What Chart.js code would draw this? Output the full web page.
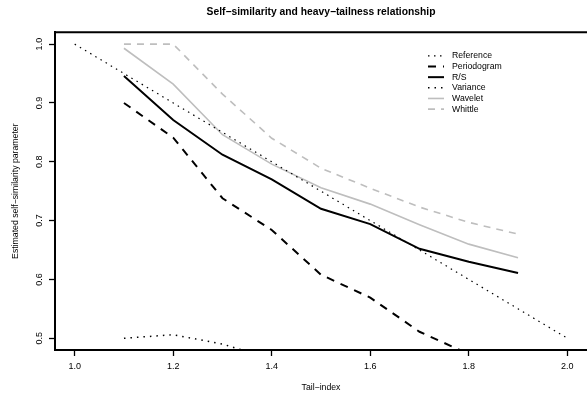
<!DOCTYPE html>
<html>
<head>
<meta charset="utf-8">
<script src="https://cdn.jsdelivr.net/npm/chart.js@4.4.1/dist/chart.umd.min.js"></script>
<style>
  html, body { margin: 0; padding: 0; background: #fff; overflow: hidden; }
</style>
</head>
<body>
<canvas id="chart" width="587" height="395"></canvas>
<script>
// tail index (alpha) where the estimators were evaluated
const tailIndex = [1.1, 1.2, 1.3, 1.4, 1.5, 1.6, 1.7, 1.8, 1.9];
const refIndex = [1.0, 1.1, 1.2, 1.3, 1.4, 1.5, 1.6, 1.7, 1.8, 1.9, 2.0];

const reference   = [1.0, 0.95, 0.9, 0.85, 0.8, 0.75, 0.7, 0.65, 0.6, 0.55, 0.5];
const periodogram = [0.900, 0.841, 0.738, 0.684, 0.608, 0.569, 0.511, 0.473, null];
const rs          = [0.946, 0.871, 0.812, 0.770, 0.720, 0.694, 0.652, 0.630, 0.611];
const variance    = [0.500, 0.506, 0.490, 0.465, null, null, null, null, null];
const wavelet     = [0.993, 0.932, 0.846, 0.796, 0.756, 0.728, 0.693, 0.660, 0.637];
const whittle     = [1.0, 1.0, 0.915, 0.840, 0.789, 0.755, 0.723, 0.697, 0.677];

const xTicks = [1.0, 1.2, 1.4, 1.6, 1.8, 2.0];
const yTicks = [0.5, 0.6, 0.7, 0.8, 0.9, 1.0];

const FONT = '"Liberation Sans", Arial, Helvetica, sans-serif';
const GREY = '#bebebe';

function pts(xs, ys) {
  return xs.map((x, i) => ({x: x, y: ys[i]}));
}

function line(label, xs, ys, color, width, dash) {
  return {
    label: label,
    data: pts(xs, ys),
    borderColor: color,
    borderWidth: width,
    borderDash: dash,
    pointRadius: 0,
    tension: 0,
    fill: false,
    clip: 0
  };
}

// R style box top, rotated y labels and legend inside the plot
const rStuff = {
  id: 'rStuff',
  afterDraw(chart) {
    const ctx = chart.ctx;
    const a = chart.chartArea;
    const y = chart.scales.y;
    ctx.save();
    ctx.strokeStyle = '#000';
    ctx.lineWidth = 2;
    ctx.setLineDash([]);
    ctx.beginPath();
    ctx.moveTo(a.left - 1, a.top);
    ctx.lineTo(a.right, a.top);
    ctx.stroke();

    ctx.fillStyle = '#000';
    ctx.font = '9px ' + FONT;
    ctx.textAlign = 'center';
    ctx.textBaseline = 'middle';
    y.ticks.forEach(t => {
      ctx.save();
      ctx.translate(40, y.getPixelForValue(t.value));
      ctx.rotate(-Math.PI / 2);
      ctx.fillText(t.value.toFixed(1), 0, 0);
      ctx.restore();
    });

    // legend
    ctx.font = '8.7px ' + FONT;
    ctx.textAlign = 'left';
    chart.data.datasets.forEach((ds, i) => {
      const yy = a.top + 23.5 + i * 10.65;
      ctx.strokeStyle = ds.borderColor;
      ctx.lineWidth = ds.borderWidth;
      ctx.setLineDash(ds.borderDash || []);
      ctx.beginPath();
      ctx.moveTo(428, yy);
      ctx.lineTo(444, yy);
      ctx.stroke();
      ctx.fillText(ds.label, 452, yy);
    });
    ctx.restore();
  }
};

new Chart(document.getElementById('chart'), {
  type: 'line',
  data: {
    datasets: [
      line('Reference', refIndex, reference, '#000', 1.2, [1.5, 4.5]),
      line('Periodogram', tailIndex, periodogram, '#000', 2, [8, 7]),
      line('R/S', tailIndex, rs, '#000', 2, []),
      line('Variance', tailIndex, variance, '#000', 1.5, [1.5, 5]),
      line('Wavelet', tailIndex, wavelet, GREY, 1.6, []),
      line('Whittle', tailIndex, whittle, GREY, 1.6, [7, 6])
    ]
  },
  options: {
    responsive: false,
    animation: false,
    devicePixelRatio: 1,
    layout: {padding: 0},
    plugins: {
      legend: {display: false},
      tooltip: {enabled: false},
      title: {
        display: true,
        text: 'Self\u2212similarity and heavy\u2212tailness relationship',
        color: '#000',
        font: {family: FONT, size: 10.3, weight: 'bold'},
        padding: {top: 6, bottom: 14},
        fullSize: false
      }
    },
    scales: {
      x: {
        type: 'linear',
        min: 0.96,
        max: 2.04,
        afterBuildTicks: s => { s.ticks = xTicks.map(v => ({value: v})); },
        afterFit: s => { s.height = 45; },
        ticks: {
          color: '#000',
          font: {family: FONT, size: 9},
          padding: 5,
          maxRotation: 0,
          autoSkip: false,
          callback: v => Number(v).toFixed(1)
        },
        grid: {drawOnChartArea: false, drawTicks: true, tickLength: 6, tickWidth: 1.3, tickColor: '#000'},
        border: {display: true, color: '#000', width: 2},
        title: {
          display: true,
          text: 'Tail\u2212index',
          color: '#000',
          font: {family: FONT, size: 8.7},
          padding: {top: 0, bottom: 2}
        }
      },
      y: {
        type: 'linear',
        min: 0.48,
        max: 1.02,
        afterBuildTicks: s => { s.ticks = yTicks.map(v => ({value: v})); },
        afterFit: s => { s.width = 55; },
        ticks: {display: false},
        grid: {drawOnChartArea: false, drawTicks: true, tickLength: 6, tickWidth: 1.3, tickColor: '#000'},
        border: {display: true, color: '#000', width: 2},
        title: {
          display: true,
          text: 'Estimated self\u2212similarity parameter',
          color: '#000',
          font: {family: FONT, size: 8.7},
          padding: {top: 10, bottom: 0}
        }
      }
    }
  },
  plugins: [rStuff]
});
</script>
</body>
</html>
